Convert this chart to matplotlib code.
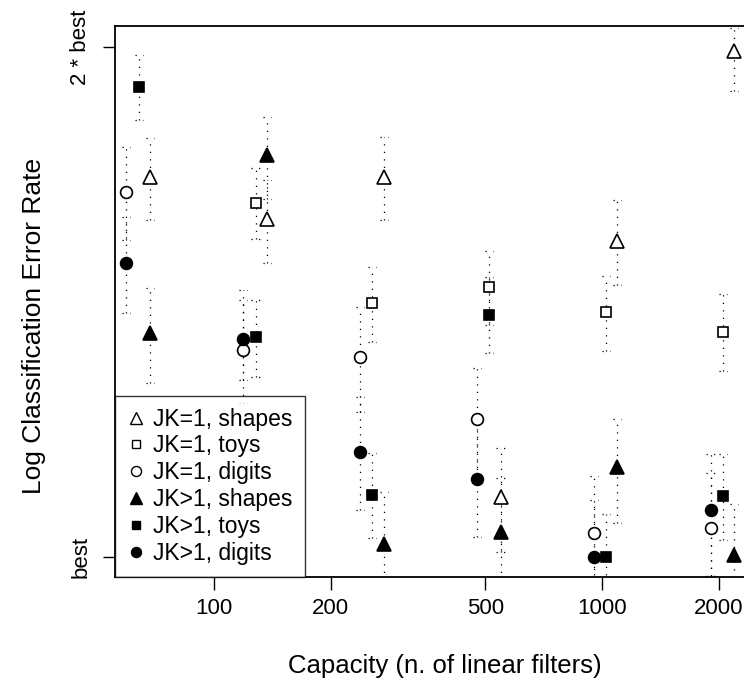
import matplotlib
matplotlib.use("Agg")
import matplotlib.pyplot as plt
from matplotlib.lines import Line2D

plt.rcParams['font.family'] = ['Liberation Sans', 'DejaVu Sans']

# capacity (number of linear filters) for each run
capacity = [64, 128, 256, 512, 1024, 2048]

# error rate relative to the best result, with low / high ends of the error bars
jk1_shapes = [1.676, 1.583, 1.676, 1.085, 1.536, 1.989]
jk1_shapes_lo = [1.581, 1.491, 1.581, 1.007, 1.447, 1.884]
jk1_shapes_hi = [1.767, 1.669, 1.770, 1.160, 1.625, 2.052]

jk1_toys = [None, 1.618, 1.412, 1.443, 1.395, 1.358]
jk1_toys_lo = [None, 1.541, 1.339, 1.371, 1.323, 1.288]
jk1_toys_hi = [None, 1.697, 1.483, 1.516, 1.465, 1.430]

jk1_digits = [1.642, 1.325, 1.312, 1.206, 1.033, 1.040]
jk1_digits_lo = [1.539, 1.233, 1.218, 1.118, 0.973, 0.974]
jk1_digits_hi = [1.746, 1.437, 1.404, 1.293, 1.116, 1.121]

jkn_shapes = [1.356, 1.727, 1.018, 1.034, 1.130, 1.003]
jkn_shapes_lo = [1.267, 1.627, 0.969, 0.969, 1.047, 0.963]
jkn_shapes_hi = [1.441, 1.818, 1.092, 1.113, 1.206, 1.075]

jkn_toys = [1.894, 1.348, 1.088, 1.389, 1.000, 1.086]
jkn_toys_lo = [1.811, 1.277, 1.026, 1.320, 0.956, 1.023]
jkn_toys_hi = [1.978, 1.418, 1.152, 1.463, 1.060, 1.150]

jkn_digits = [1.491, 1.345, 1.153, 1.112, 1.000, 1.066]
jkn_digits_lo = [1.393, 1.272, 1.066, 1.028, 0.956, 0.974]
jkn_digits_hi = [1.587, 1.418, 1.243, 1.205, 1.081, 1.150]

series = [
    ("JK=1, shapes", jk1_shapes, jk1_shapes_lo, jk1_shapes_hi, "^", "white", 1.07),
    ("JK=1, toys", jk1_toys, jk1_toys_lo, jk1_toys_hi, "s", "white", 1.0),
    ("JK=1, digits", jk1_digits, jk1_digits_lo, jk1_digits_hi, "o", "white", 0.93),
    ("JK>1, shapes", jkn_shapes, jkn_shapes_lo, jkn_shapes_hi, "^", "black", 1.07),
    ("JK>1, toys", jkn_toys, jkn_toys_lo, jkn_toys_hi, "s", "black", 1.0),
    ("JK>1, digits", jkn_digits, jkn_digits_lo, jkn_digits_hi, "o", "black", 0.93),
]
msize = {"^": 10, "s": 7.5, "o": 8.5}

# plot region runs past the right edge of the canvas
fig = plt.figure(figsize=(7.44, 6.86), dpi=100)
ax = fig.add_axes([115 / 744, 1 - 577 / 686, (775 - 115) / 744, (577 - 26) / 686])
ax.set_xscale("log")
ax.set_yscale("log", base=2)

dots = (0, (1, 5))
handles = []
for label, vals, lo, hi, mk, face, shift in series:
    for c, v, l, h in zip(capacity, vals, lo, hi):
        if v is None:
            continue
        x = c * shift
        ax.vlines(x, l, h, colors="black", linestyles=dots, lw=0.9)
        ax.hlines([l, h], x * 0.976, x * 1.024, colors="black", linestyles=dots, lw=0.9)
        ax.plot(x, v, marker=mk, ms=msize[mk], mfc=face, mec="black", mew=1.2,
                ls="none", zorder=3)
    handles.append(Line2D([], [], marker=mk, ms=msize[mk] * 0.85, mfc=face,
                          mec="black", mew=1.0, ls="none", label=label))

ax.set_xlim(55.6, 10 ** (3 + 173 / 388))
ax.set_ylim(2 ** (-20 / 510), 2 ** (531 / 510))

ax.set_xticks([100, 200, 500, 1000, 2000])
ax.set_xticklabels(["100", "200", "500", "1000", "2000"])
ax.minorticks_off()
ax.set_yticks([1, 2])
ax.set_yticklabels(["best", "2 * best"], rotation=90, va="center")

ax.tick_params(direction="out", length=9, width=1, labelsize=16, color="black")
ax.tick_params(axis="x", pad=6)
ax.tick_params(axis="y", pad=8)
for side in ["left", "bottom", "top"]:
    ax.spines[side].set_linewidth(1.3)
ax.spines["right"].set_visible(False)

ax.set_xlabel("Capacity (n. of linear filters)", fontsize=18.5, labelpad=25)
ax.set_ylabel("Log Classification Error Rate", fontsize=19)
ax.yaxis.set_label_coords(-0.105, 0.455)

leg = ax.legend(handles=handles, loc="lower left", bbox_to_anchor=(0, 0),
                borderaxespad=0, fontsize=16.5, frameon=True, fancybox=False,
                handlelength=0.8, handletextpad=0.35, labelspacing=0.17,
                borderpad=0.52)
leg.get_frame().set_edgecolor("black")
leg.get_frame().set_linewidth(1.0)

fig.savefig("out.png", dpi=100)
